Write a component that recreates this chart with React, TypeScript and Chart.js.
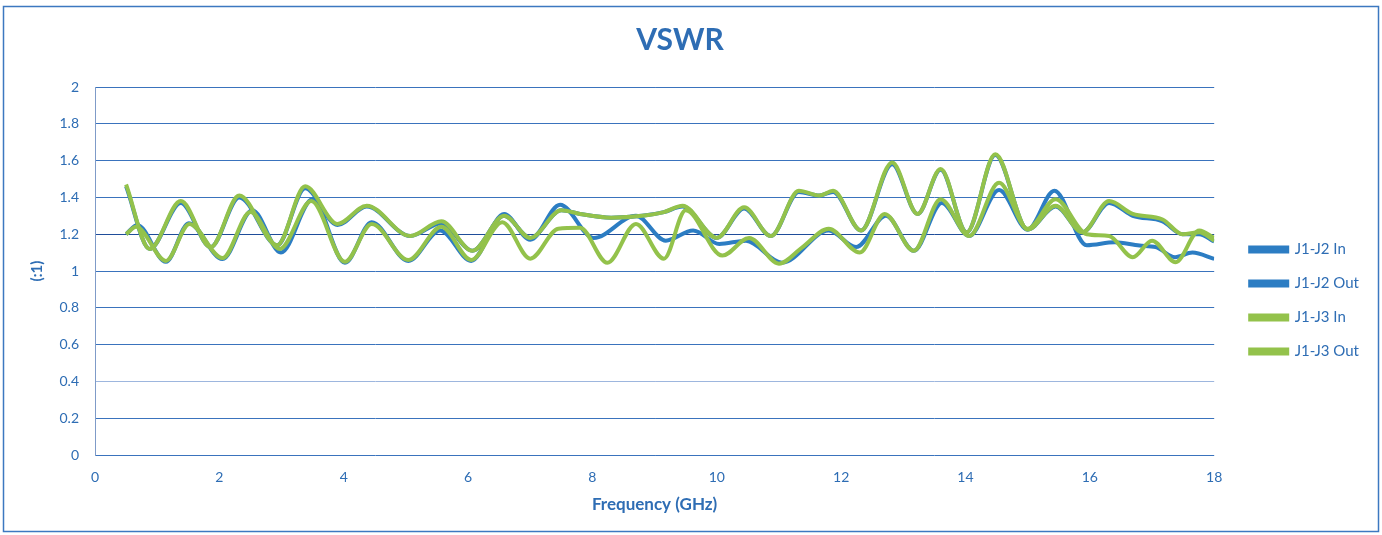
import React, { useEffect, useRef } from "react";
import { Chart, registerables } from "chart.js";

Chart.register(...registerables);

const chartTitle = "VSWR";
const xAxisTitle = "Frequency (GHz)";
const yAxisTitle = "(:1)";
const seriesNames = ["J1-J2 In", "J1-J2 Out", "J1-J3 In", "J1-J3 Out"];

const freqJ1J2In = [0.5, 0.88, 1.38, 1.86, 2.32, 2.93, 3.38, 3.9, 4.37, 5.07, 5.57, 6.07, 6.58, 7.0, 7.5, 7.8, 8.3, 8.8, 9.15, 9.45, 10.0, 10.44, 10.87, 11.32, 11.65, 11.87, 12.32, 12.82, 13.23, 13.6, 14.02, 14.48, 15.0, 15.45, 15.88, 16.31, 16.69, 17.17, 17.49, 17.76, 18.0];
const vswrJ1J2In = [1.46, 1.12, 1.37, 1.13, 1.40, 1.14, 1.45, 1.25, 1.35, 1.19, 1.26, 1.11, 1.30, 1.18, 1.33, 1.31, 1.29, 1.30, 1.32, 1.35, 1.18, 1.34, 1.19, 1.43, 1.41, 1.43, 1.22, 1.58, 1.31, 1.55, 1.21, 1.63, 1.225, 1.35, 1.21, 1.37, 1.30, 1.27, 1.2, 1.2, 1.16];

const freqJ1J2Out = [0.5, 0.68, 1.14, 1.51, 2.05, 2.53, 2.99, 3.5, 4.02, 4.45, 5.04, 5.55, 6.05, 6.58, 7.0, 7.48, 8.02, 8.7, 9.18, 9.62, 10.04, 10.47, 11.05, 11.8, 12.24, 12.72, 13.17, 13.62, 14.06, 14.54, 15.0, 15.43, 15.95, 16.4, 16.8, 17.06, 17.37, 17.65, 18.0];
const vswrJ1J2Out = [1.2, 1.25, 1.05, 1.26, 1.065, 1.33, 1.10, 1.39, 1.045, 1.265, 1.055, 1.22, 1.055, 1.31, 1.17, 1.36, 1.18, 1.30, 1.165, 1.22, 1.147, 1.165, 1.045, 1.22, 1.13, 1.30, 1.11, 1.37, 1.19, 1.44, 1.225, 1.436, 1.14, 1.156, 1.138, 1.13, 1.075, 1.10, 1.066];

const freqJ1J3In = [0.5, 0.88, 1.38, 1.86, 2.32, 2.93, 3.38, 3.9, 4.37, 5.07, 5.57, 6.07, 6.58, 7.0, 7.5, 7.8, 8.3, 8.8, 9.15, 9.45, 10.0, 10.44, 10.87, 11.32, 11.65, 11.87, 12.32, 12.82, 13.23, 13.6, 14.02, 14.48, 15.0, 15.45, 15.88, 16.31, 16.69, 17.17, 17.49, 17.76, 18.0];
const vswrJ1J3In = [1.47, 1.12, 1.38, 1.13, 1.41, 1.14, 1.46, 1.256, 1.355, 1.19, 1.27, 1.11, 1.30, 1.18, 1.33, 1.31, 1.29, 1.30, 1.32, 1.355, 1.18, 1.346, 1.19, 1.436, 1.41, 1.436, 1.22, 1.59, 1.31, 1.554, 1.21, 1.635, 1.225, 1.355, 1.21, 1.38, 1.31, 1.28, 1.2, 1.21, 1.165];

const freqJ1J3Out = [0.5, 0.66, 1.14, 1.52, 2.05, 2.5, 2.97, 3.48, 4.02, 4.45, 5.04, 5.57, 6.05, 6.55, 7.0, 7.45, 7.8, 8.24, 8.7, 9.15, 9.5, 10.09, 10.52, 11.0, 11.38, 11.8, 12.3, 12.7, 13.17, 13.6, 14.06, 14.54, 15.0, 15.45, 15.95, 16.31, 16.69, 17.0, 17.38, 17.76, 18.0];
const vswrJ1J3Out = [1.2, 1.24, 1.055, 1.255, 1.07, 1.32, 1.12, 1.38, 1.05, 1.255, 1.06, 1.24, 1.06, 1.265, 1.067, 1.23, 1.235, 1.045, 1.256, 1.067, 1.33, 1.084, 1.18, 1.04, 1.13, 1.23, 1.10, 1.31, 1.11, 1.39, 1.19, 1.48, 1.23, 1.39, 1.2, 1.19, 1.075, 1.165, 1.048, 1.22, 1.18];

const xMin = 0;
const xMax = 18;
const xStep = 2;
const yMin = 0;
const yMax = 2;
const yStep = 0.2;

const BLUE = "#2C7DC3";
const GREEN = "#93C24B";
const TEXT = "#2E6DB4";
const GRID = "#3A73BD";
const FONT = "Lato, 'Open Sans', sans-serif";

const zip = (xs: number[], ys: number[]) => xs.map((x, i) => ({ x, y: ys[i] }));

const frame = {
  id: "frame",
  beforeDraw(chart: any) {
    const { ctx, width, height } = chart;
    ctx.save();
    ctx.fillStyle = "#ffffff";
    ctx.fillRect(0, 0, width, height);
    ctx.strokeStyle = "#3C78C0";
    ctx.lineWidth = 1.5;
    ctx.strokeRect(3.5, 6.5, width - 7, height - 10);
    ctx.restore();
  },
};

const legendShift = {
  id: "legendShift",
  afterLayout(chart: any) {
    if (chart.legend) {
      chart.legend.left += 17;
      chart.legend.right += 17;
    }
  },
};

export default function App() {
  const ref = useRef<HTMLCanvasElement | null>(null);

  useEffect(() => {
    if (!ref.current) return;
    const mk = (i: number, xs: number[], ys: number[], color: string, order: number) => ({
      label: seriesNames[i],
      data: zip(xs, ys),
      borderColor: color,
      backgroundColor: color,
      borderWidth: 4,
      pointRadius: 0,
      pointHoverRadius: 0,
      fill: false,
      cubicInterpolationMode: "monotone" as const,
      order,
    });
    const chart = new Chart(ref.current, {
      type: "line",
      data: {
        datasets: [
          mk(0, freqJ1J2In, vswrJ1J2In, BLUE, 3),
          mk(1, freqJ1J2Out, vswrJ1J2Out, BLUE, 2),
          mk(2, freqJ1J3In, vswrJ1J3In, GREEN, 1),
          mk(3, freqJ1J3Out, vswrJ1J3Out, GREEN, 0),
        ],
      },
      plugins: [frame, legendShift],
      options: {
        animation: false,
        responsive: true,
        maintainAspectRatio: false,
        devicePixelRatio: 1,
        layout: { padding: { left: 8, right: 30, top: 0, bottom: 0 } },
        plugins: {
          title: {
            display: true,
            text: chartTitle,
            color: TEXT,
            font: { family: FONT, size: 30, weight: "bold" },
            padding: { top: 22, bottom: 29 },
          },
          legend: {
            display: true,
            position: "right",
            align: "center",
            title: { display: true, text: " ", padding: { top: 54, bottom: 0 }, font: { size: 10 } },
            labels: {
              boxWidth: 37,
              boxHeight: 4,
              padding: 19,
              color: TEXT,
              font: { family: FONT, size: 15 },
              sort: (a: any, b: any) => a.datasetIndex - b.datasetIndex,
            },
          },
          tooltip: { enabled: false },
        },
        scales: {
          x: {
            type: "linear",
            min: xMin,
            max: xMax,
            ticks: {
              stepSize: xStep,
              color: TEXT,
              font: { family: FONT, size: 14 },
              padding: 14,
              maxRotation: 0,
            },
            grid: { display: false, drawTicks: false },
            border: { display: false },
            title: {
              display: true,
              text: xAxisTitle,
              color: TEXT,
              font: { family: FONT, size: 17, weight: "bold" },
              padding: { top: 4, bottom: 20 },
            },
            afterFit: (s: any) => {
              s.height = 80;
            },
          },
          y: {
            min: yMin,
            max: yMax,
            ticks: {
              stepSize: yStep,
              color: TEXT,
              font: { family: FONT, size: 14 },
              padding: 16,
              callback: (v: any) => String(Math.round(Number(v) * 10) / 10),
            },
            grid: {
              drawTicks: false,
              color: (c: any) => {
                const v = Math.round((c.tick?.value ?? 0) * 10) / 10;
                if (v === 1.2) return "#1F4D9A";
                if (v === 0.4) return "#9DB6DE";
                return GRID;
              },
              lineWidth: 1,
            },
            border: { display: true, color: "#7F9BC8", width: 1 },
            title: {
              display: true,
              text: yAxisTitle,
              color: TEXT,
              font: { family: FONT, size: 15, weight: "bold" },
              padding: { top: 20, bottom: 0 },
            },
            afterFit: (s: any) => {
              s.width = 87;
            },
          },
        },
      },
    });
    return () => chart.destroy();
  }, []);

  return (
    <div style={{ position: "fixed", left: 0, top: 0, width: 1382, height: 535, background: "#fff" }}>
      <canvas ref={ref} />
    </div>
  );
}
